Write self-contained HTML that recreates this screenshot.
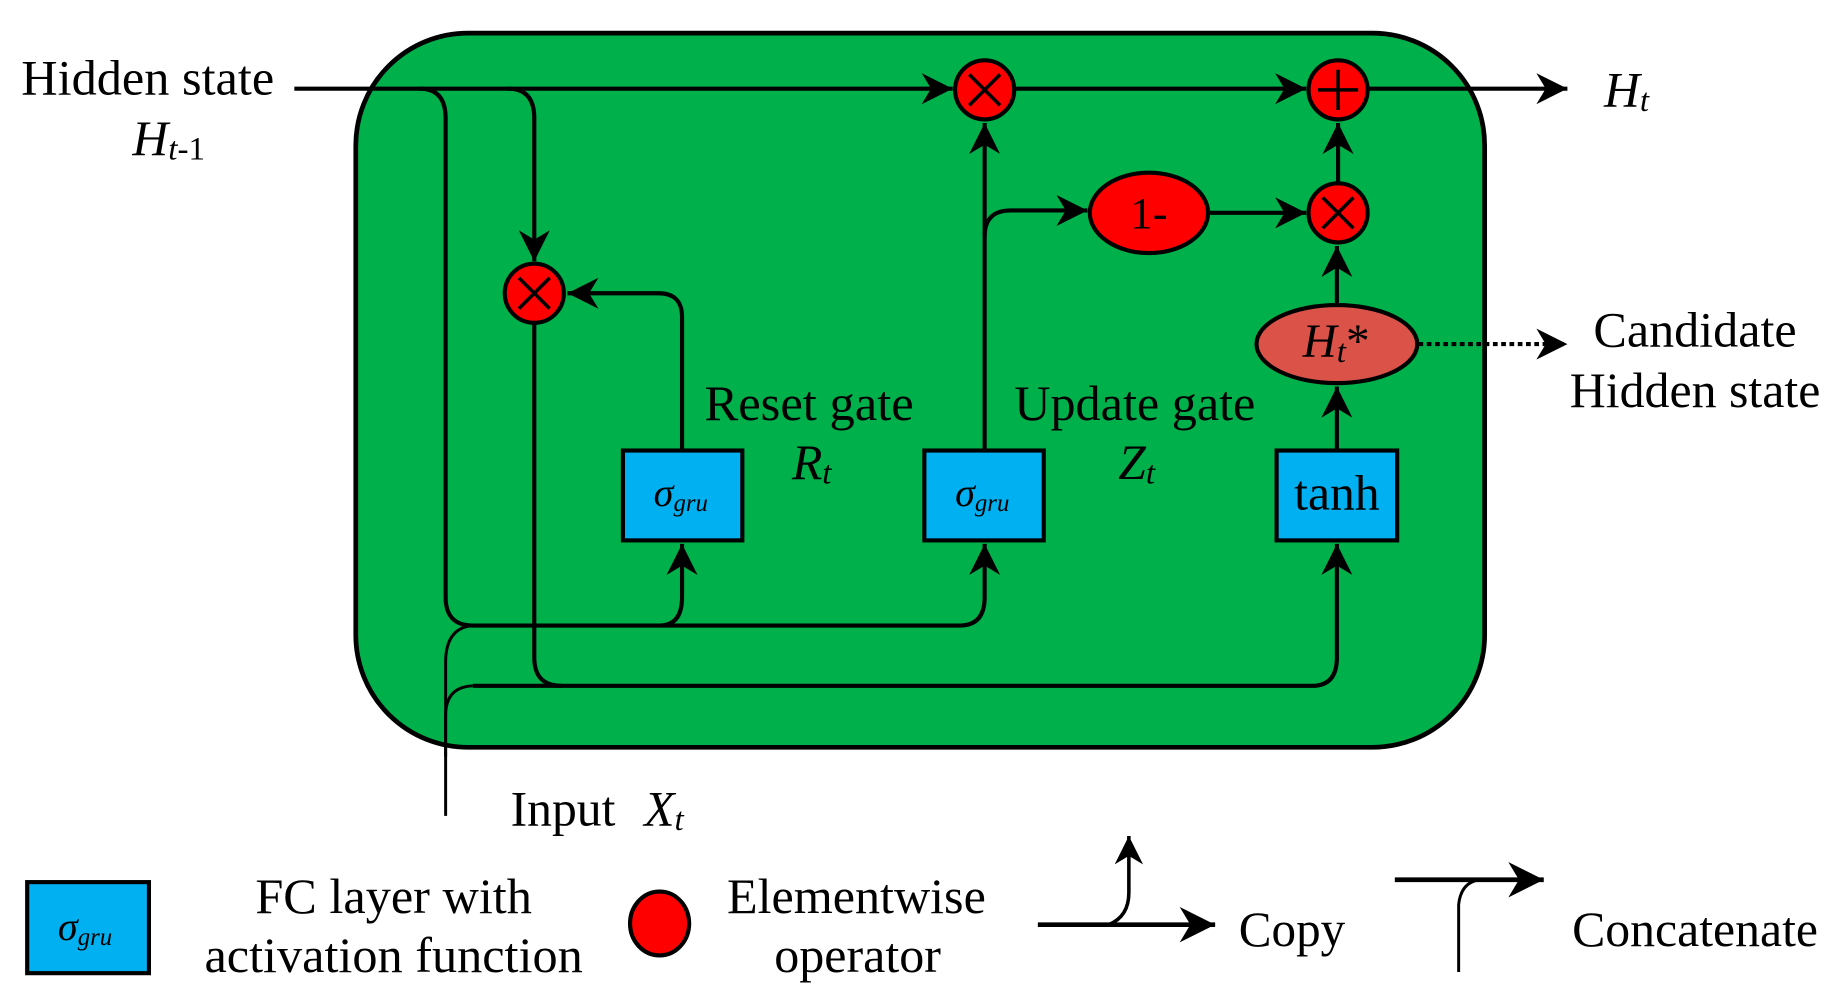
<!DOCTYPE html>
<html><head><meta charset="utf-8"><style>
html,body{margin:0;padding:0;background:#fff;}
svg{display:block;}
text{font-family:"Liberation Serif",serif;fill:#000;}
.it{font-style:italic;}
</style></head><body>
<svg width="1844" height="998" viewBox="0 0 1560 844" preserveAspectRatio="none" xmlns="http://www.w3.org/2000/svg">
<defs>
<marker id="a" viewBox="0 0 10 10" refX="10" refY="5" markerWidth="8" markerHeight="8" orient="auto"><path d="M0,0 L10,5 L0,10 L3,5 z" fill="#000"/></marker>
<marker id="b" viewBox="0 0 10 10" refX="10" refY="5" markerWidth="7.5" markerHeight="7.5" orient="auto"><path d="M0,0 L10,5 L0,10 L3,5 z" fill="#000"/></marker>
</defs>
<rect x="301" y="28" width="955" height="604" rx="95" ry="95" fill="#00B04A" stroke="#000" stroke-width="4"/>

<g fill="none" stroke="#000" stroke-width="3.5">
<path d="M249 75 H806" marker-end="url(#b)"/>
<path d="M858 75 H1105" marker-end="url(#b)"/>
<path d="M1157 75 H1326" marker-end="url(#b)"/>
<path d="M355 75 Q377 75 377 100 V505 Q377 529 400 529 H558 Q577 529 577 505 V460" marker-end="url(#b)"/>
<path d="M558 529 H812 Q833 529 833 505 V460" marker-end="url(#b)"/>
<path d="M430 75 Q452 75 452 100 V221" marker-end="url(#b)"/>
<path d="M452 274 V556 Q452 580 475 580 H1110 Q1131 580 1131 556 V460" marker-end="url(#b)"/>
<path d="M400 580 H475"/>
<path d="M577 381 V268 Q577 248 557 248 H480" marker-end="url(#b)"/>
<path d="M833 381 V104" marker-end="url(#b)"/>
<path d="M833 200 Q833 178 855 178 H920" marker-end="url(#b)"/>
<path d="M1023 180 H1105" marker-end="url(#b)"/>
<path d="M1131 258 V208" marker-end="url(#b)"/>
<path d="M1132 154 V104" marker-end="url(#b)"/>
<path d="M1131 381 V327" marker-end="url(#b)"/>
</g>
<g fill="none" stroke="#000" stroke-width="2.5">
<path d="M377 690 V560 Q377 531 400 529"/>
<path d="M377 640 V605 Q377 581 400 580"/>
</g>
<path d="M1200 291 H1326" fill="none" stroke="#000" stroke-width="3.5" stroke-dasharray="4,3" marker-end="url(#b)"/>

<g stroke="#000" stroke-width="3.5">
<ellipse cx="833" cy="76" rx="25" ry="25" fill="#FF0000"/>
<ellipse cx="1132" cy="76" rx="25" ry="25" fill="#FF0000"/>
<ellipse cx="1132" cy="180" rx="25" ry="25" fill="#FF0000"/>
<ellipse cx="452" cy="248" rx="25" ry="25" fill="#FF0000"/>
<ellipse cx="972" cy="180" rx="50" ry="34" fill="#FF0000"/>
<ellipse cx="1131" cy="291" rx="68" ry="33" fill="#DB5249"/>
<rect x="527" y="381" width="101" height="76" fill="#00B0F0"/>
<rect x="782" y="381" width="101" height="76" fill="#00B0F0"/>
<rect x="1080" y="381" width="102" height="76" fill="#00B0F0"/>
<rect x="23" y="746" width="103" height="77" fill="#00B0F0"/>
<ellipse cx="558" cy="781" rx="25" ry="27" fill="#FF0000"/>
</g>
<g stroke="#000" stroke-width="3" fill="none">
<path d="M820 63 L846 89 M846 63 L820 89"/>
<path d="M1119 167 L1145 193 M1145 167 L1119 193"/>
<path d="M439 235 L465 261 M465 235 L439 261"/>
<path d="M1115 76 H1149 M1132 59 V93"/>
</g>

<path d="M878 782 H1028" stroke="#000" stroke-width="4" fill="none" marker-end="url(#b)"/>
<path d="M938 782 Q955 775 955 755 V707" stroke="#000" stroke-width="3" fill="none" marker-end="url(#a)"/>
<path d="M1180 744 H1306" stroke="#000" stroke-width="4" fill="none" marker-end="url(#b)"/>
<path d="M1234 822 V765 Q1236 746 1252 744" stroke="#000" stroke-width="2.5" fill="none"/>

<text x="18" y="80" font-size="42" textLength="214" lengthAdjust="spacingAndGlyphs">Hidden state</text>
<text x="112" y="131" font-size="42" class="it">H<tspan font-size="28" dy="4">t</tspan><tspan font-size="28" font-style="normal">-1</tspan></text>
<text x="1357" y="90" font-size="42" class="it">H<tspan font-size="28" dy="4">t</tspan></text>
<text x="1348" y="293" font-size="42" textLength="172" lengthAdjust="spacingAndGlyphs">Candidate</text>
<text x="1328" y="344" font-size="42" textLength="212" lengthAdjust="spacingAndGlyphs">Hidden state</text>
<text x="596" y="355" font-size="42" textLength="177" lengthAdjust="spacingAndGlyphs">Reset gate</text>
<text x="670" y="405" font-size="42" class="it">R<tspan font-size="28" dy="4">t</tspan></text>
<text x="858" y="355" font-size="42" textLength="204" lengthAdjust="spacingAndGlyphs">Update gate</text>
<text x="946" y="405" font-size="42" class="it">Z<tspan font-size="28" dy="4">t</tspan></text>
<text x="1102" y="302" font-size="40" class="it">H<tspan font-size="28" dy="4">t</tspan><tspan dy="-4" font-style="normal">*</tspan></text>
<text x="972" y="193" font-size="38" text-anchor="middle">1-</text>
<text x="1131" y="431" font-size="42" text-anchor="middle">tanh</text>
<text x="553" y="428" font-size="34" class="it">σ<tspan font-size="21" dy="4">gru</tspan></text>
<text x="808" y="428" font-size="34" class="it">σ<tspan font-size="21" dy="4">gru</tspan></text>
<text x="49" y="795" font-size="34" class="it">σ<tspan font-size="21" dy="4">gru</tspan></text>
<text x="432" y="698" font-size="42">Input</text>
<text x="545" y="698" font-size="42" class="it">X<tspan font-size="28" dy="4">t</tspan></text>
<text x="216" y="772" font-size="42" textLength="234" lengthAdjust="spacingAndGlyphs">FC layer with</text>
<text x="173" y="822" font-size="42" textLength="320" lengthAdjust="spacingAndGlyphs">activation function</text>
<text x="615" y="772" font-size="42" textLength="219" lengthAdjust="spacingAndGlyphs">Elementwise</text>
<text x="655" y="822" font-size="42" textLength="141" lengthAdjust="spacingAndGlyphs">operator</text>
<text x="1048" y="800" font-size="42" textLength="90" lengthAdjust="spacingAndGlyphs">Copy</text>
<text x="1330" y="800" font-size="42" textLength="208" lengthAdjust="spacingAndGlyphs">Concatenate</text>
</svg>
</body></html>
